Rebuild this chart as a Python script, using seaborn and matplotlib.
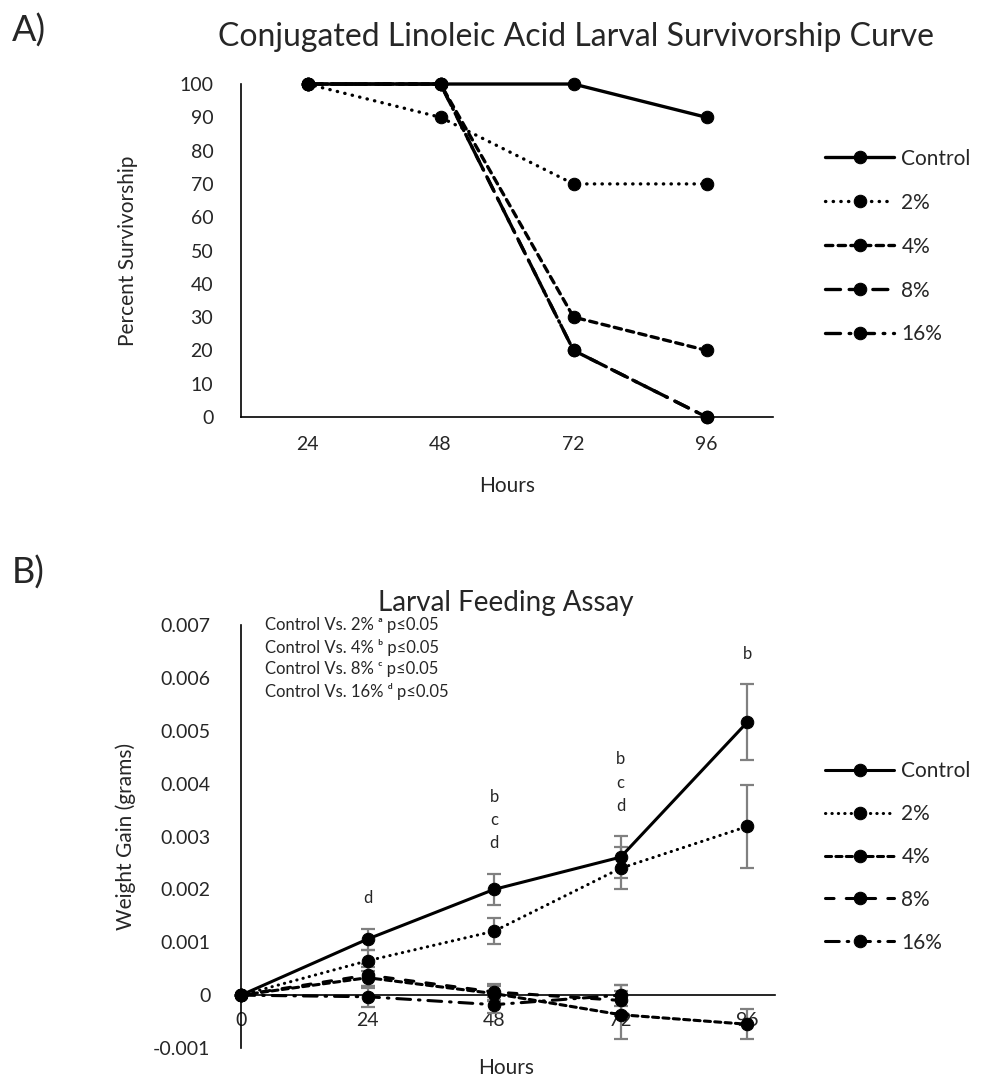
import numpy as np
import pandas as pd
import matplotlib
matplotlib.use('Agg')
import matplotlib.pyplot as plt
import seaborn as sns

sns.set_theme(style='white')
plt.rcParams['font.family'] = ['Lato', 'DejaVu Sans']

# ---- A) 생존 곡선 데이터 ----
surv_hours = ['24', '48', '72', '96']
surv_control = [100, 100, 100, 90]
surv_2 = [100, 90, 70, 70]
surv_4 = [100, 100, 30, 20]
surv_8 = [100, 100, 20, 0]
surv_16 = [100, 100, 20, 0]

# ---- B) 섭식 실험 데이터 (grams) ----
feed_hours = ['0', '24', '48', '72', '96']
feed_control = [0, 0.00106, 0.00200, 0.00261, 0.00516]
feed_control_err = [0, 0.00020, 0.00030, 0.00040, 0.00072]
feed_2 = [0, 0.00065, 0.00121, 0.00240, 0.00319]
feed_2_err = [0, 0.00020, 0.00024, 0.00040, 0.00078]
feed_4 = [0, 0.00033, 0.00003, -0.00037, -0.00055]
feed_4_err = [0, 0.00020, 0.00015, 0.00045, 0.00028]
feed_8 = [0, 0.00038, 0.00006, -0.00010, np.nan]
feed_8_err = [0, 0.00020, 0.00015, 0.00030, np.nan]
feed_16 = [0, -0.00003, -0.00018, 0.00000, np.nan]
feed_16_err = [0, 0.00020, 0.00015, 0.00020, np.nan]
sig_letters = ['', 'd', 'b\nc\nd', 'b\nc\nd', 'b']
stat_lines = ['Control Vs. 2% ᵃ p≤0.05', 'Control Vs. 4% ᵇ p≤0.05',
              'Control Vs. 8% ᶜ p≤0.05', 'Control Vs. 16% ᵈ p≤0.05']
y_ticks_b = [-0.001, 0, 0.001, 0.002, 0.003, 0.004, 0.005, 0.006, 0.007]
y_labels_b = ['-0.001', '0', '0.001', '0.002', '0.003', '0.004', '0.005', '0.006', '0.007']

labels = ['Control', '2%', '4%', '8%', '16%']
# 선 스타일 (점선은 round cap 으로 동그란 점)
styles_a = ['-', (0, (0.1, 2.2)), (0, (2.2, 1.6)), (0, (4.5, 2.6)), (0, (4.5, 2.6, 0.5, 2.6))]
styles_b = ['-', (0, (0.1, 2.0)), (0, (2.0, 1.4)), (0, (2.8, 4.0)), (0, (4.5, 2.6, 0.5, 2.6))]

fig = plt.figure(figsize=(9.83, 10.8), dpi=100)

# =============== A) 생존 곡선 ===============
axA = fig.add_axes([0.2452, 0.6139, 0.5412, 0.3083])
surv_df = pd.DataFrame({'pos': np.arange(len(surv_hours)), 'Control': surv_control,
                        '2%': surv_2, '4%': surv_4, '8%': surv_8, '16%': surv_16})
for lab, ls in zip(labels, styles_a):
    sns.lineplot(data=surv_df, x='pos', y=lab, ax=axA, color='black', linestyle=ls,
                 linewidth=2.4, marker='o', markersize=9, markeredgecolor='black',
                 label=lab, errorbar=None, clip_on=False, dash_capstyle='round')
axA.set_xlim(-0.5, 3.5)
axA.set_ylim(0, 100)
axA.set_xticks(range(len(surv_hours)))
axA.set_xticklabels(surv_hours)
axA.set_yticks(range(0, 101, 10))
axA.tick_params(axis='both', labelsize=14, length=0)
axA.tick_params(axis='x', pad=14)
axA.tick_params(axis='y', pad=20)
for s in ['top', 'right']:
    axA.spines[s].set_visible(False)
for s in ['left', 'bottom']:
    axA.spines[s].set_color('black')
    axA.spines[s].set_linewidth(1.2)
axA.set_xlabel('Hours', fontsize=15, labelpad=16)
axA.set_ylabel('Percent Survivorship', fontsize=15, labelpad=30)
axA.legend(loc='upper left', bbox_to_anchor=(0.829, 0.872), bbox_transform=fig.transFigure,
           frameon=False, fontsize=15, handlelength=3.3, handletextpad=0.35,
           labelspacing=1.15, borderpad=0)
fig.text(0.012, 0.972, 'A)', fontsize=26, ha='left', va='center')
fig.text(0.586, 0.966, 'Conjugated Linoleic Acid Larval Survivorship Curve', fontsize=23,
         ha='center', va='center')

# =============== B) 섭식 실험 ===============
axB = fig.add_axes([0.2452, 0.0296, 0.5432, 0.3917])
feed_df = pd.DataFrame({'pos': np.arange(len(feed_hours)), 'Control': feed_control,
                        '2%': feed_2, '4%': feed_4, '8%': feed_8, '16%': feed_16})
errs = [feed_control_err, feed_2_err, feed_4_err, feed_8_err, feed_16_err]
for lab, ls, err in zip(labels, styles_b, errs):
    axB.errorbar(feed_df['pos'], feed_df[lab], yerr=err, fmt='none', ecolor='#808080',
                 elinewidth=1.6, capsize=5, capthick=1.6, zorder=1)
    sns.lineplot(data=feed_df, x='pos', y=lab, ax=axB, color='black', linestyle=ls,
                 linewidth=2.2, marker='o', markersize=9, markeredgecolor='black',
                 label=lab, errorbar=None, clip_on=False, zorder=3, dash_capstyle='round')

# 유의성 표시 (Control error bar 위)
control_top = np.array(feed_control) + np.array(feed_control_err)
for i, txt in enumerate(sig_letters):
    if txt:
        axB.annotate(txt, (i, control_top[i]), xytext=(0, 16), textcoords='offset points',
                     ha='center', va='bottom', fontsize=12, linespacing=1.55)

axB.set_xlim(0, 4.22)
axB.set_ylim(-0.001, 0.007)
axB.set_xticks(range(len(feed_hours)))
axB.set_xticklabels(feed_hours)
axB.set_yticks(y_ticks_b)
axB.set_yticklabels(y_labels_b)
axB.tick_params(axis='both', labelsize=14, length=0)
axB.tick_params(axis='x', pad=12)
axB.tick_params(axis='y', pad=22)
axB.spines['bottom'].set_position(('data', 0))
for s in ['top', 'right']:
    axB.spines[s].set_visible(False)
for s in ['left', 'bottom']:
    axB.spines[s].set_color('black')
    axB.spines[s].set_linewidth(1.2)
axB.set_xlabel('')
axB.set_ylabel('Weight Gain (grams)', fontsize=15, labelpad=12)
fig.text(0.515, 0.011, 'Hours', fontsize=15, ha='center', va='center')
for k, line in enumerate(stat_lines):
    fig.text(0.270, 1 - (625 + 22 * k) / 1080, line, fontsize=12, ha='left', va='center')
axB.legend(loc='upper left', bbox_to_anchor=(0.829, 0.305), bbox_transform=fig.transFigure,
           frameon=False, fontsize=15, handlelength=3.3, handletextpad=0.35,
           labelspacing=1.1, borderpad=0)
fig.text(0.012, 0.470, 'B)', fontsize=26, ha='left', va='center')
fig.text(0.515, 0.442, 'Larval Feeding Assay', fontsize=20, ha='center', va='center')

plt.savefig('out.png', dpi=100)
